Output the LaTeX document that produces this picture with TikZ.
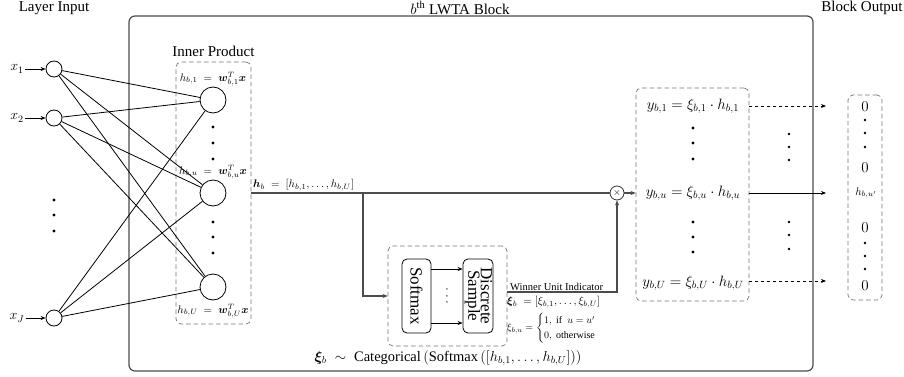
\RequirePackage{fix-cm}
\documentclass[tikz,border=0pt]{standalone}
\usepackage{amsmath}
\usepackage{bm}
\usepackage{fontspec}
\setmainfont{Liberation Serif}
\usetikzlibrary{arrows.meta,calc}
\begin{document}
\begin{tikzpicture}[x=1pt,y=1pt,
  inp/.style={circle,draw,minimum size=16pt,inner sep=0pt,line width=0.8pt},
  hid/.style={circle,draw,minimum size=26pt,inner sep=0pt,line width=0.8pt},
  bdot/.style={circle,fill,inner sep=0pt,minimum size=3.2pt},
  dbox/.style={draw=black!55,dash pattern=on 4.5pt off 3pt,rounded corners=5pt,line width=0.7pt,inner sep=0pt},
  flow/.style={draw=black!70,line width=1.1pt},
  conn/.style={line width=0.8pt},
  arr/.style={-{Stealth[length=5pt,width=4pt]}},
  big/.style={font=\fontsize{15}{18}\selectfont},
  mid/.style={font=\fontsize{14}{16}\selectfont},
  sm/.style={font=\fontsize{11}{13}\selectfont},
  rbox/.style={draw,rounded corners=5pt,line width=0.8pt,inner sep=0pt,minimum width=29pt,minimum height=74pt,font=\fontsize{17}{15}\selectfont},
  lbl/.style={inner sep=1pt}
]
\useasboundingbox (0,0) rectangle (904,-377);
% frame
\node[draw=black!70,line width=1.2pt,rounded corners=6pt,minimum width=684pt,minimum height=355pt,inner sep=0pt] (frame) at (471,-193.5) {};
% titles
\node[big] (tin) at (54,-8) {Layer Input};
\node[big] (tblk) at (460,-8) {$b^{\text{th}}$ LWTA Block};
\node[big] (tout) at (862,-8) {Block Output};
% inputs
\node[inp] (x1) at (54,-69) {};
\node[inp] (x2) at (54,-118) {};
\node[inp] (xJ) at (54,-318) {};
\node[mid,lbl] (l1) at (17,-69) {$x_1$};
\node[mid,lbl] (l2) at (17,-118) {$x_2$};
\node[mid,lbl] (lJ) at (17,-318) {$x_J$};
\draw[conn,arr] (l1.east) -- (x1.west);
\draw[conn,arr] (l2.east) -- (x2.west);
\draw[conn,arr] (lJ.east) -- (xJ.west);
\node[bdot] (id1) at (54,-200) {};
\node[bdot] (id2) at (54,-215) {};
\node[bdot] (id3) at (54,-231) {};
% inner product box
\node[dbox,minimum width=75pt,minimum height=262pt] (ipbox) at (213.5,-193) {};
\node[big] (tip) at (213.5,-51) {Inner Product};
\node[hid] (h1) at (213,-100) {};
\node[hid] (h2) at (213,-193) {};
\node[hid] (hU) at (213,-287) {};
\node[sm,lbl] (lh1) at (213,-79) {$h_{b,1}\;=\;\bm{w}_{b,1}^{T}\bm{x}$};
\node[sm,lbl] (lh2) at (213,-172) {$h_{b,u}\;=\;\bm{w}_{b,u}^{T}\bm{x}$};
\node[sm,lbl] (lhU) at (213,-311) {$h_{b,U}\;=\;\bm{w}_{b,U}^{T}\bm{x}$};
\node[bdot] (hd1) at (213,-127) {};
\node[bdot] (hd2) at (213,-143) {};
\node[bdot] (hd3) at (213,-159) {};
\node[bdot] (hd4) at (213,-222) {};
\node[bdot] (hd5) at (213,-237) {};
\node[bdot] (hd6) at (213,-253) {};
% connections
\foreach \a in {x1,x2,xJ}{
  \foreach \b in {h1,h2,hU}{
    \draw[conn] (\a) -- (\b);
  }
}
% h_b line
\node[circle,draw=black!80,line width=0.8pt,inner sep=0pt,minimum size=14pt] (mul) at (617,-193) {$\times$};
\coordinate (hs) at (ipbox.east |- h2);
\coordinate (br) at (363,-193);
\draw[flow] (hs) -- (mul.west);
\node[sm,lbl,anchor=south west] (lhb) at (252,-192) {$\bm{h}_b\;=\;[h_{b,1},\ldots,h_{b,U}]$};
% softmax box
\node[dbox,minimum width=119pt,minimum height=100pt] (sbox) at (447.5,-296) {};
\draw[flow,arr] (br) |- (sbox.west);
\node[rbox] (smx) at (416.5,-296) {\rotatebox{-90}{Softmax}};
\node[rbox,minimum width=30pt] (dsc) at (478,-296) {\rotatebox{-90}{\begin{tabular}{@{}c@{}}Discrete\\[-4pt]Sample\end{tabular}}};
\draw[conn,arr] (smx.east |- 0,-269) -- (dsc.west |- 0,-269);
\draw[conn,arr] (smx.east |- 0,-323) -- (dsc.west |- 0,-323);
\node[mid] (vd) at (447,-296) {\rotatebox{-90}{$\ldots$}};
% winner line
\coordinate (ws) at ($(sbox.east)+(0,4)$);
\draw[flow,arr] (ws) -| (mul.south);
\node[lbl,anchor=south west,font=\fontsize{10.5}{12}\selectfont] (lwin) at (509,-292) {Winner Unit Indicator};
\node[sm,lbl,anchor=north west] (lxi) at (506,-295) {$\bm{\xi}_b\;=[\xi_{b,1},\ldots,\xi_{b,U}]$};
\node[lbl,anchor=north west,font=\fontsize{10}{12}\selectfont] (lxu) at (506,-312) {$\xi_{b,u}=\begin{cases}1,\text{ if }\;u=u'\\0,\text{ otherwise}\end{cases}$};
\node[font=\fontsize{14.5}{17}\selectfont] (lcat) at (448,-358) {$\bm{\xi}_b\;\sim\;\text{Categorical}\,(\text{Softmax}\,([h_{b,1},\ldots,h_{b,U}]))$};
% output box
\node[dbox,minimum width=113pt,minimum height=213pt] (obox) at (692.5,-194.5) {};
\draw[flow,arr] (mul.east) -- (obox.west |- mul);
\node[big,lbl] (y1) at (693,-106) {$y_{b,1}=\xi_{b,1}\cdot h_{b,1}$};
\node[big,lbl] (yu) at (693,-193) {$y_{b,u}=\xi_{b,u}\cdot h_{b,u}$};
\node[big,lbl] (yU) at (693,-283) {$y_{b,U}=\xi_{b,U}\cdot h_{b,U}$};
\node[bdot] (yd1) at (693,-128) {};
\node[bdot] (yd2) at (693,-143) {};
\node[bdot] (yd3) at (693,-159) {};
\node[bdot] (yd4) at (693,-222) {};
\node[bdot] (yd5) at (693,-237) {};
\node[bdot] (yd6) at (693,-252) {};
% arrows to output
\coordinate (e1) at (826,-106);
\coordinate (eu) at (826,-193);
\coordinate (eU) at (826,-281);
\draw[conn,dashed,arr] (obox.east |- e1) -- (e1);
\draw[conn,arr] (obox.east |- eu) -- (eu);
\draw[conn,dashed,arr] (obox.east |- eU) -- (eU);
\node[bdot,minimum size=2.8pt] (md1) at (789,-134) {};
\node[bdot,minimum size=2.8pt] (md2) at (789,-147) {};
\node[bdot,minimum size=2.8pt] (md3) at (789,-160) {};
\node[bdot,minimum size=2.8pt] (md4) at (789,-222) {};
\node[bdot,minimum size=2.8pt] (md5) at (789,-235) {};
\node[bdot,minimum size=2.8pt] (md6) at (789,-249) {};
% block output box
\node[dbox,minimum width=34pt,minimum height=205pt] (bbox) at (865,-197.5) {};
\node[big,lbl] (z1) at (865,-107) {$0$};
\node[bdot,minimum size=2.8pt] (zd1) at (865,-120) {};
\node[bdot,minimum size=2.8pt] (zd2) at (865,-133) {};
\node[bdot,minimum size=2.8pt] (zd3) at (865,-147) {};
\node[big,lbl] (z2) at (865,-168) {$0$};
\node[sm,lbl] (zh) at (866,-193) {$h_{b,u'}$};
\node[big,lbl] (z3) at (865,-228) {$0$};
\node[bdot,minimum size=2.8pt] (zd4) at (865,-243) {};
\node[bdot,minimum size=2.8pt] (zd5) at (865,-256) {};
\node[bdot,minimum size=2.8pt] (zd6) at (865,-269) {};
\node[big,lbl] (z4) at (865,-286) {$0$};
\end{tikzpicture}
\end{document}
